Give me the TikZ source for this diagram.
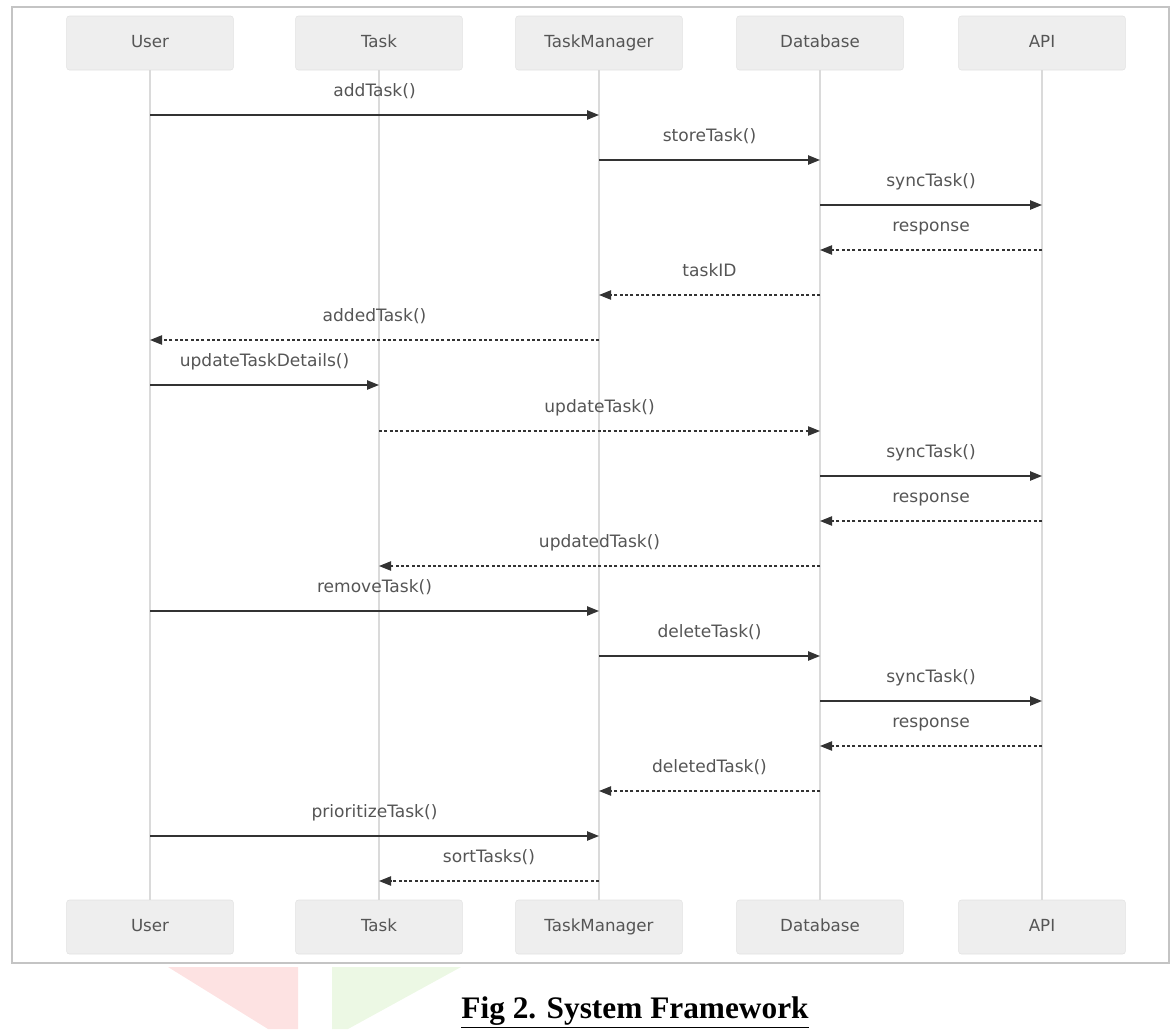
\documentclass[tikz,border=0pt]{standalone}
\usepackage{fontspec}
\setmainfont{DejaVu Sans}
\newfontfamily\capfont{Liberation Serif}
\usetikzlibrary{arrows.meta}

\definecolor{boxfill}{HTML}{EEEEEE}
\definecolor{boxline}{HTML}{E2E2E2}
\definecolor{lifegray}{HTML}{DADADA}
\definecolor{msgdark}{HTML}{333333}
\definecolor{labgray}{HTML}{555555}
\definecolor{framegray}{HTML}{C4C4C4}
\definecolor{logopink}{HTML}{FDE2E2}
\definecolor{logogreen}{HTML}{ECF8E4}

\tikzset{
	actor/.style={draw=boxline, fill=boxfill, rounded corners=2pt, minimum width=125pt, minimum height=40.5pt, text height=9.5pt, text depth=2.5pt, text=labgray, font=\fontsize{12.5}{14}\selectfont},
	life/.style={draw=lifegray, line width=1.1pt},
	call/.style={draw=msgdark, line width=1.1pt, -{Triangle[length=9pt, width=7pt]}},
	reply/.style={draw=msgdark, line width=0.9pt, dash pattern=on 2.2pt off 1.8pt, -{Triangle[length=9pt, width=7pt]}},
	lab/.style={text=labgray, text height=9.5pt, text depth=2.5pt, font=\fontsize{12.8}{14}\selectfont}
}

\begin{document}
	\begin{tikzpicture}[x=0.75pt, y=-0.75pt]
		\useasboundingbox ( 0, 0 ) rectangle ( 1171, 1029 );

		% остатки логотипа
		\fill [logopink] ( 168, 967 ) -- ( 298, 967 ) -- ( 298, 1029 ) -- ( 268, 1029 ) -- cycle;
		\fill [logogreen] ( 332, 967 ) -- ( 461, 967 ) -- ( 348, 1029 ) -- ( 332, 1029 ) -- cycle;

		% рамка
		\draw [framegray, line width=0.9pt] ( 12, 7 ) rectangle ( 1169, 963 );

		% участники сверху
		\node [actor] (user-t) at ( 150, 43 ) {User};
		\node [actor] (task-t) at ( 379, 43 ) {Task};
		\node [actor] (mgr-t) at ( 599, 43 ) {TaskManager};
		\node [actor] (db-t) at ( 820, 43 ) {Database};
		\node [actor] (api-t) at ( 1042, 43 ) {API};

		% участники снизу
		\node [actor] (user-b) at ( 150, 927 ) {User};
		\node [actor] (task-b) at ( 379, 927 ) {Task};
		\node [actor] (mgr-b) at ( 599, 927 ) {TaskManager};
		\node [actor] (db-b) at ( 820, 927 ) {Database};
		\node [actor] (api-b) at ( 1042, 927 ) {API};

		% линии жизни
		\draw [life] (user-t) -- (user-b);
		\draw [life] (task-t) -- (task-b);
		\draw [life] (mgr-t) -- (mgr-b);
		\draw [life] (db-t) -- (db-b);
		\draw [life] (api-t) -- (api-b);

		% добавление задачи
		\draw [call] ( user-t |- 0, 115 ) -- ( mgr-t |- 0, 115 );
		\node [lab] (m1) at ( 374.5, 92 ) {addTask()};
		\draw [call] ( mgr-t |- 0, 160 ) -- ( db-t |- 0, 160 );
		\node [lab] (m2) at ( 709.5, 137 ) {storeTask()};
		\draw [call] ( db-t |- 0, 205 ) -- ( api-t |- 0, 205 );
		\node [lab] (m3) at ( 931, 182 ) {syncTask()};
		\draw [reply] ( api-t |- 0, 250 ) -- ( db-t |- 0, 250 );
		\node [lab] (m4) at ( 931, 227 ) {response};
		\draw [reply] ( db-t |- 0, 295 ) -- ( mgr-t |- 0, 295 );
		\node [lab] (m5) at ( 709.5, 272 ) {taskID};
		\draw [reply] ( mgr-t |- 0, 340 ) -- ( user-t |- 0, 340 );
		\node [lab] (m6) at ( 374.5, 317 ) {addedTask()};

		% обновление задачи
		\draw [call] ( user-t |- 0, 385 ) -- ( task-t |- 0, 385 );
		\node [lab] (m7) at ( 264.5, 362 ) {updateTaskDetails()};
		\draw [reply] ( task-t |- 0, 431 ) -- ( db-t |- 0, 431 );
		\node [lab] (m8) at ( 599.5, 408 ) {updateTask()};
		\draw [call] ( db-t |- 0, 476 ) -- ( api-t |- 0, 476 );
		\node [lab] (m9) at ( 931, 453 ) {syncTask()};
		\draw [reply] ( api-t |- 0, 521 ) -- ( db-t |- 0, 521 );
		\node [lab] (m10) at ( 931, 498 ) {response};
		\draw [reply] ( db-t |- 0, 566 ) -- ( task-t |- 0, 566 );
		\node [lab] (m11) at ( 599.5, 543 ) {updatedTask()};

		% удаление задачи
		\draw [call] ( user-t |- 0, 611 ) -- ( mgr-t |- 0, 611 );
		\node [lab] (m12) at ( 374.5, 588 ) {removeTask()};
		\draw [call] ( mgr-t |- 0, 656 ) -- ( db-t |- 0, 656 );
		\node [lab] (m13) at ( 709.5, 633 ) {deleteTask()};
		\draw [call] ( db-t |- 0, 701 ) -- ( api-t |- 0, 701 );
		\node [lab] (m14) at ( 931, 678 ) {syncTask()};
		\draw [reply] ( api-t |- 0, 746 ) -- ( db-t |- 0, 746 );
		\node [lab] (m15) at ( 931, 723 ) {response};
		\draw [reply] ( db-t |- 0, 791 ) -- ( mgr-t |- 0, 791 );
		\node [lab] (m16) at ( 709.5, 768 ) {deletedTask()};

		% приоритет
		\draw [call] ( user-t |- 0, 836 ) -- ( mgr-t |- 0, 836 );
		\node [lab] (m17) at ( 374.5, 813 ) {prioritizeTask()};
		\draw [reply] ( mgr-t |- 0, 881 ) -- ( task-t |- 0, 881 );
		\node [lab] (m18) at ( 489, 858 ) {sortTasks()};

		% подпись
		\node [anchor=base, font=\capfont\fontsize{23.5}{28}\selectfont\bfseries] (cap) at ( 635, 1018 ) {\underline{Fig 2. System Framework}};
	\end{tikzpicture}
\end{document}
